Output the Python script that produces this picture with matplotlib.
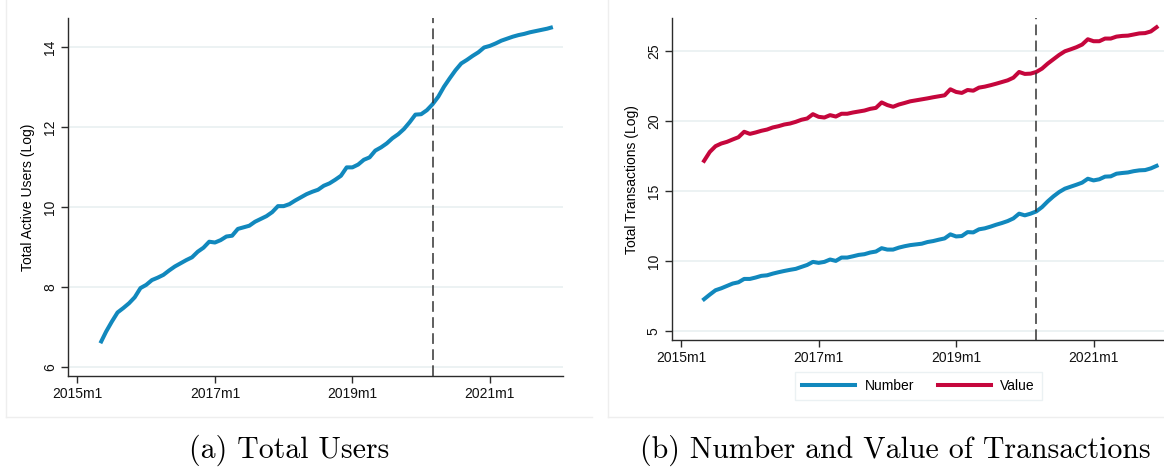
import numpy as np
import matplotlib
matplotlib.use("Agg")
import matplotlib.pyplot as plt
from matplotlib.lines import Line2D

plt.rcParams['font.family'] = ['Liberation Sans', 'DejaVu Sans']

# months counted from 2015m1 = 0; series start at 2015m5
start_month = 4
tick_months = [0, 24, 48, 72]
tick_labels = ["2015m1", "2017m1", "2019m1", "2021m1"]
event_month = 62  # 2020m3

users = [6.60, 6.89, 7.14, 7.37, 7.48, 7.60, 7.75, 7.98, 8.06, 8.18,
         8.24, 8.31, 8.42, 8.52, 8.60, 8.68, 8.75, 8.89, 8.99, 9.14,
         9.12, 9.18, 9.27, 9.29, 9.46, 9.50, 9.54, 9.64, 9.71, 9.78,
         9.88, 10.03, 10.03, 10.08, 10.17, 10.25, 10.33, 10.39, 10.44, 10.54,
         10.60, 10.69, 10.79, 11.00, 11.00, 11.07, 11.19, 11.25, 11.42, 11.50,
         11.60, 11.73, 11.83, 11.96, 12.13, 12.32, 12.33, 12.43, 12.58, 12.77,
         13.02, 13.23, 13.43, 13.60, 13.69, 13.79, 13.88, 14.00, 14.04, 14.10,
         14.17, 14.22, 14.27, 14.31, 14.34, 14.38, 14.41, 14.44, 14.47, 14.51]

number = [7.26, 7.59, 7.90, 8.04, 8.21, 8.38, 8.47, 8.71, 8.71, 8.81,
          8.93, 8.97, 9.09, 9.19, 9.28, 9.36, 9.43, 9.57, 9.71, 9.93,
          9.86, 9.93, 10.10, 10.00, 10.24, 10.24, 10.33, 10.43, 10.48, 10.60,
          10.67, 10.91, 10.81, 10.81, 10.95, 11.05, 11.13, 11.18, 11.23, 11.35,
          11.42, 11.52, 11.61, 11.90, 11.75, 11.78, 12.06, 12.04, 12.26, 12.33,
          12.45, 12.59, 12.71, 12.85, 13.04, 13.38, 13.26, 13.38, 13.54, 13.85,
          14.26, 14.62, 14.93, 15.17, 15.31, 15.45, 15.60, 15.88, 15.76, 15.84,
          16.03, 16.05, 16.24, 16.29, 16.33, 16.42, 16.48, 16.50, 16.62, 16.80]

value = [17.16, 17.80, 18.21, 18.40, 18.52, 18.69, 18.85, 19.24, 19.09, 19.19,
         19.31, 19.40, 19.55, 19.64, 19.76, 19.83, 19.95, 20.10, 20.19, 20.50,
         20.31, 20.26, 20.43, 20.33, 20.53, 20.53, 20.62, 20.69, 20.76, 20.88,
         20.95, 21.34, 21.15, 21.03, 21.19, 21.30, 21.42, 21.49, 21.56, 21.63,
         21.71, 21.78, 21.85, 22.28, 22.09, 22.02, 22.23, 22.18, 22.40, 22.47,
         22.57, 22.68, 22.80, 22.92, 23.11, 23.52, 23.38, 23.40, 23.52, 23.76,
         24.12, 24.43, 24.74, 25.00, 25.14, 25.29, 25.48, 25.86, 25.72, 25.72,
         25.91, 25.91, 26.05, 26.10, 26.12, 26.20, 26.28, 26.30, 26.42, 26.72]

blue = "#1188bd"
red = "#c5063c"
grid_c = "#e9f0f1"
spine_c = "#2b2b2b"

W, H = 1164, 470
fig = plt.figure(figsize=(W / 100, H / 100), dpi=100)


def px_box(x0, x1, ytop, ybot):
    return [x0 / W, 1 - ybot / H, (x1 - x0) / W, (ybot - ytop) / H]


def style(ax, ylim, yticks, ylabel):
    ax.set_xlim(-1.6, 84.7)
    ax.set_ylim(*ylim)
    ax.set_yticks(yticks)
    ax.set_xticks(tick_months)
    ax.set_xticklabels(tick_labels)
    for s in ["top", "right"]:
        ax.spines[s].set_visible(False)
    for s in ["left", "bottom"]:
        ax.spines[s].set_color(spine_c)
        ax.spines[s].set_linewidth(1.0)
    ax.tick_params(axis="both", direction="out", length=5, width=1,
                   color=spine_c, labelsize=10, labelcolor="#111111")
    ax.tick_params(axis="y", pad=3)
    ax.tick_params(axis="x", pad=3)
    for lab in ax.get_yticklabels():
        lab.set_rotation(90)
        lab.set_va("center")
    ax.yaxis.grid(True, color=grid_c, lw=1.2)
    ax.set_axisbelow(True)
    ax.set_ylabel(ylabel, fontsize=10, labelpad=6)
    ax.axvline(event_month, color="#333333", lw=1.1, dashes=(7, 3.5))


months = np.arange(start_month, start_month + len(users))

# left panel
ax1 = fig.add_axes(px_box(68.3, 562.6, 18.3, 376))
ax1.plot(months, users, color=blue, lw=2.9, solid_capstyle="butt")
style(ax1, (5.78, 14.73), [6, 8, 10, 12, 14], "Total Active Users (Log)")

# right panel
ax2 = fig.add_axes(px_box(672, 1166.3, 18.3, 340))
ax2.plot(months, number, color=blue, lw=2.9, label="Number")
ax2.plot(months, value, color=red, lw=2.9, label="Value")
style(ax2, (4.34, 27.36), [5, 10, 15, 20, 25], "Total Transactions (Log)")

leg = fig.legend(handles=[Line2D([], [], color=blue, lw=2.9),
                          Line2D([], [], color=red, lw=2.9)],
                 labels=["Number", "Value"], ncol=2, fontsize=10,
                 loc="center", bbox_to_anchor=(918.5 / W, 1 - 386 / H),
                 handlelength=3.8, handletextpad=0.7, columnspacing=1.7,
                 frameon=True, fancybox=False, borderpad=0.5)
leg.get_frame().set_edgecolor("#e6eef0")
leg.get_frame().set_linewidth(1.0)

# faint graph region outlines
edge = "#eeeeee"
for x0, x1 in [(6, 592), (608, 1164)]:
    fig.add_artist(Line2D([x0 / W, x0 / W], [1, 1 - 417 / H], color=edge, lw=1))
    fig.add_artist(Line2D([x0 / W, x1 / W], [1 - 417 / H, 1 - 417 / H], color=edge, lw=1))

# sub-captions
fig.text(289.5 / W, 1 - 450 / H, "(a) Total Users", family="cmr10",
         fontsize=21.5, ha="center", va="center")
fig.text(895 / W, 1 - 450 / H, "(b) Number and Value of Transactions",
         family="cmr10", fontsize=21.5, ha="center", va="center")

fig.savefig("out.png", dpi=100)
